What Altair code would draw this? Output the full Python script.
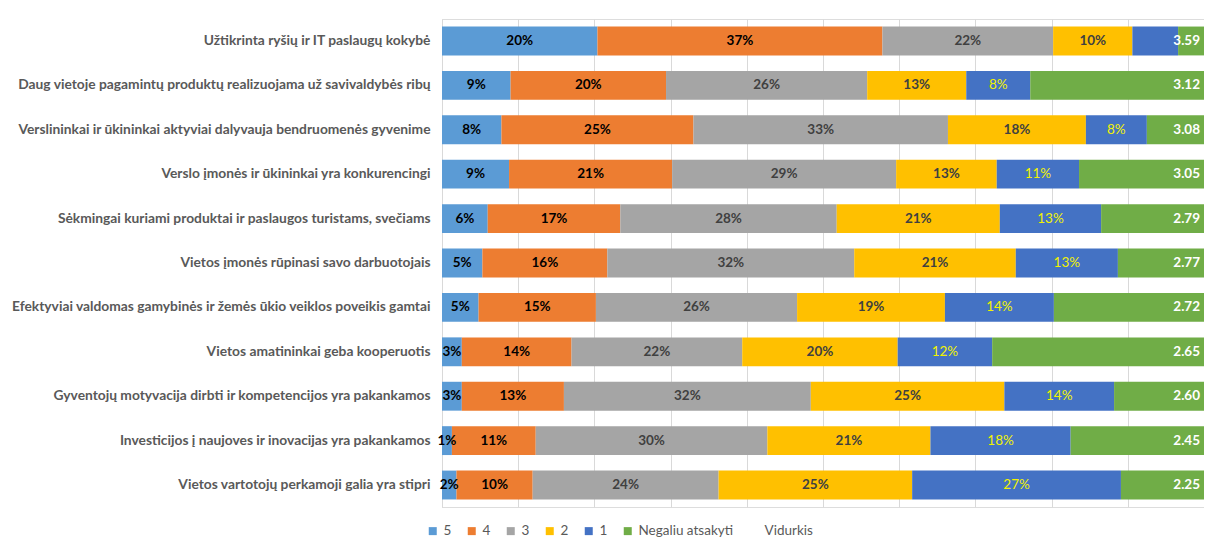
import altair as alt
import pandas as pd

categories = [
    "Užtikrinta ryšių ir IT paslaugų kokybė",
    "Daug vietoje pagamintų produktų realizuojama už savivaldybės ribų",
    "Verslininkai ir ūkininkai aktyviai dalyvauja bendruomenės gyvenime",
    "Verslo įmonės ir ūkininkai yra konkurencingi",
    "Sėkmingai kuriami produktai ir paslaugos turistams, svečiams",
    "Vietos įmonės rūpinasi savo darbuotojais",
    "Efektyviai valdomas gamybinės ir žemės ūkio veiklos poveikis gamtai",
    "Vietos amatininkai geba kooperuotis",
    "Gyventojų motyvacija dirbti ir kompetencijos yra pakankamos",
    "Investicijos į naujoves ir inovacijas yra pakankamos",
    "Vietos vartotojų perkamoji galia yra stipri",
]
series = ["5", "4", "3", "2", "1", "Negaliu atsakyti"]
p5 = [20.4, 9.0, 7.8, 8.8, 6.0, 5.3, 4.8, 2.6, 2.6, 1.3, 1.9]
p4 = [37.4, 20.4, 25.2, 21.4, 17.4, 16.4, 15.4, 14.4, 13.4, 11.0, 10.0]
p3 = [22.4, 26.4, 33.4, 29.4, 28.4, 32.4, 26.4, 22.4, 32.4, 30.4, 24.4]
p2 = [10.4, 13.0, 18.1, 13.2, 21.4, 21.2, 19.4, 20.4, 25.4, 21.4, 25.4]
p1 = [6.0, 8.4, 8.0, 10.8, 13.3, 13.4, 14.3, 12.4, 14.4, 18.4, 27.4]
pn = [3.4, 22.8, 7.5, 16.4, 13.5, 11.3, 19.7, 27.8, 11.8, 17.5, 10.9]
vidurkis = [3.59, 3.12, 3.08, 3.05, 2.79, 2.77, 2.72, 2.65, 2.60, 2.45, 2.25]
# segments whose percentage label is not shown (category index, series)
hidden_labels = [(0, "1")]

colors = ["#5B9BD5", "#ED7D31", "#A5A5A5", "#FFC000", "#4472C4", "#70AD47", "transparent"]
text_colors = {"5": "#000000", "4": "#000000", "3": "#404040", "2": "#404040", "1": "#F2F200"}

rows = []
for s_i, (s, vals) in enumerate(zip(series, [p5, p4, p3, p2, p1, pn])):
    for c_i, (c, v) in enumerate(zip(categories, vals)):
        show = s != "Negaliu atsakyti" and (c_i, s) not in hidden_labels
        rows.append({
            "cat": c, "series": s, "ord": s_i, "v": v,
            "label": f"{int(v + 0.5)}%" if show else "",
            "tcolor": text_colors.get(s, "#000000"),
            "bold": s != "1",
        })
df = pd.DataFrame(rows)
mean_df = pd.DataFrame({"cat": categories, "mean": [f"{m:.2f}" for m in vidurkis], "xend": [100] * len(categories)})

FONT = "Lato"
y_enc = alt.Y("cat:N", sort=categories, title=None,
              scale=alt.Scale(paddingInner=0.35, paddingOuter=0.17),
              axis=alt.Axis(labelFont=FONT, labelFontSize=13.8, labelFontWeight="bold",
                            labelColor="#595959", labelPadding=12, ticks=False,
                            domainColor="#D9D9D9", labelLimit=500))
x_scale = alt.Scale(domain=[0, 100], nice=False)
x_axis = alt.Axis(values=list(range(0, 101, 10)), labels=False, ticks=False, domain=False,
                  grid=True, gridColor="#D9D9D9", title=None)

bars = alt.Chart(df).mark_bar().encode(
    y=y_enc,
    x=alt.X("v:Q", stack="zero", scale=x_scale, axis=x_axis),
    color=alt.Color("series:N",
                    scale=alt.Scale(domain=series + ["Vidurkis"], range=colors),
                    legend=alt.Legend(title=None, orient="none", direction="horizontal",
                                      legendX=-16, legendY=505, symbolType="square",
                                      symbolSize=64, symbolStrokeWidth=0,
                                      labelFont=FONT, labelFontSize=13.5, labelColor="#595959",
                                      columnPadding=13, labelOffset=4)),
    order=alt.Order("ord:Q"),
)

base_txt = alt.Chart(df).transform_stack(
    stack="v", groupby=["cat"], sort=[alt.SortField("ord")], as_=["x0", "x1"]
).transform_calculate(mid="(datum.x0 + datum.x1) / 2").transform_filter("datum.label != ''")

txt_bold = base_txt.transform_filter("datum.bold").mark_text(
    font=FONT, fontSize=13.5, fontWeight="bold"
).encode(y=alt.Y("cat:N", sort=categories), x=alt.X("mid:Q", scale=x_scale),
         text="label:N", color=alt.Color("tcolor:N", scale=None))

txt_norm = base_txt.transform_filter("!datum.bold").mark_text(
    font=FONT, fontSize=13.5
).encode(y=alt.Y("cat:N", sort=categories), x=alt.X("mid:Q", scale=x_scale),
         text="label:N", color=alt.Color("tcolor:N", scale=None))

means = alt.Chart(mean_df).mark_text(
    font=FONT, fontSize=13.5, fontWeight="bold", color="white", align="right", dx=-4
).encode(y=alt.Y("cat:N", sort=categories), x=alt.X("xend:Q", scale=x_scale), text="mean:N")

chart = alt.layer(bars, txt_bold, txt_norm, means).properties(
    width=762, height=488,
    autosize=alt.AutoSizeParams(type="none"),
    padding={"left": 434, "top": 11, "right": 0, "bottom": 33},
).configure_view(stroke="transparent").configure(background="white")

chart.save("out.html", embed_options={"renderer": "svg", "actions": False})
